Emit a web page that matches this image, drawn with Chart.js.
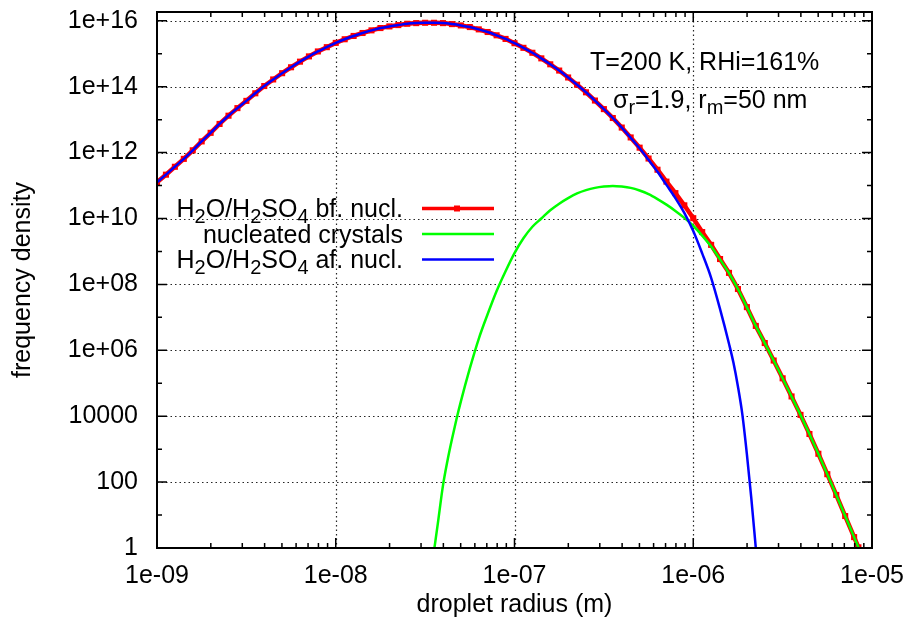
<!DOCTYPE html>
<html>
<head>
<meta charset="utf-8">
<script src="https://cdn.jsdelivr.net/npm/chart.js@4.4.0/dist/chart.umd.min.js"></script>
<style>
html,body{margin:0;padding:0;background:#fff;}
#wrap{width:910px;height:625px;position:relative;}
</style>
</head>
<body>
<div id="wrap"><canvas id="c" width="910" height="625"></canvas></div>
<script>
// ---------- data (log10 of radius in m, log10 of frequency density) ----------
const xTickExps = [-9, -8, -7, -6, -5];
const xTickLabels = ['1e-09', '1e-08', '1e-07', '1e-06', '1e-05'];
const yTickExps = [0, 2, 4, 6, 8, 10, 12, 14, 16];
const yTickLabels = ['1', '100', '10000', '1e+06', '1e+08', '1e+10', '1e+12', '1e+14', '1e+16'];

const seriesNames = ['H2O/H2SO4 bf. nucl.', 'nucleated crystals', 'H2O/H2SO4 af. nucl.'];

const bfLogR = [-9.00,-8.95,-8.90,-8.85,-8.80,-8.75,-8.70,-8.65,-8.60,-8.55,-8.50,-8.45,-8.40,-8.35,-8.30,-8.25,-8.20,-8.15,-8.10,-8.05,
  -8.00,-7.95,-7.90,-7.85,-7.80,-7.75,-7.70,-7.65,-7.60,-7.55,-7.50,-7.45,-7.40,-7.35,-7.30,-7.25,-7.20,-7.15,-7.10,-7.05,
  -7.00,-6.95,-6.90,-6.85,-6.80,-6.75,-6.70,-6.65,-6.60,-6.55,-6.50,-6.45,-6.40,-6.35,-6.30,-6.25,-6.20,-6.15,-6.10,-6.05,
  -6.00,-5.95,-5.90,-5.85,-5.80,-5.75,-5.70,-5.65,-5.60,-5.55,-5.50,-5.45,-5.40,-5.35,-5.30,-5.25,-5.20,-5.15,-5.10,-5.076];
const bfLogN = [11.10,11.33,11.57,11.81,12.07,12.34,12.60,12.87,13.12,13.35,13.57,13.80,14.02,14.22,14.41,14.59,14.76,14.92,15.07,15.20,
  15.33,15.44,15.54,15.63,15.71,15.78,15.83,15.87,15.91,15.93,15.94,15.94,15.93,15.90,15.86,15.81,15.74,15.66,15.56,15.45,
  15.32,15.18,15.03,14.86,14.68,14.49,14.28,14.06,13.83,13.58,13.32,13.05,12.76,12.46,12.15,11.82,11.48,11.12,10.77,10.40,
  10.01,9.59,9.20,8.77,8.35,7.86,7.31,6.74,6.22,5.69,5.15,4.60,4.04,3.46,2.86,2.24,1.61,0.97,0.33,0.02];

const afLogR = [-9.00,-8.95,-8.90,-8.85,-8.80,-8.75,-8.70,-8.65,-8.60,-8.55,-8.50,-8.45,-8.40,-8.35,-8.30,-8.25,-8.20,-8.15,-8.10,-8.05,
  -8.00,-7.95,-7.90,-7.85,-7.80,-7.75,-7.70,-7.65,-7.60,-7.55,-7.50,-7.45,-7.40,-7.35,-7.30,-7.25,-7.20,-7.15,-7.10,-7.05,
  -7.00,-6.95,-6.90,-6.85,-6.80,-6.75,-6.70,-6.65,-6.60,-6.55,-6.50,-6.45,-6.40,-6.35,-6.30,-6.25,-6.20,-6.15,-6.10,-6.05,
  -6.00,-5.95,-5.90,-5.85,-5.80,-5.775,-5.75,-5.725,-5.70,-5.675,-5.65];
const afLogN = [11.10,11.33,11.57,11.81,12.07,12.34,12.60,12.87,13.12,13.35,13.57,13.80,14.02,14.22,14.41,14.59,14.76,14.92,15.07,15.20,
  15.33,15.44,15.54,15.63,15.71,15.78,15.83,15.87,15.91,15.93,15.94,15.94,15.93,15.90,15.86,15.81,15.74,15.66,15.56,15.45,
  15.32,15.18,15.03,14.86,14.68,14.49,14.28,14.06,13.83,13.58,13.32,13.05,12.76,12.45,12.13,11.78,11.42,11.02,10.62,10.17,
  9.62,8.94,8.20,7.25,6.20,5.62,4.90,4.04,2.85,1.50,0.00];

const crLogR = [-7.448,-7.43,-7.40,-7.375,-7.35,-7.325,-7.30,-7.25,-7.20,-7.15,-7.10,-7.05,-7.00,-6.95,-6.90,-6.85,-6.80,-6.75,-6.70,-6.65,
  -6.60,-6.55,-6.50,-6.45,-6.40,-6.35,-6.30,-6.25,-6.20,-6.15,-6.10,-6.05,-6.00,-5.95,-5.90,-5.85,-5.80,-5.75,-5.70,-5.65,
  -5.60,-5.55,-5.50,-5.45,-5.40,-5.35,-5.30,-5.25,-5.20,-5.15,-5.10,-5.076];
const crLogN = [0.00,0.70,1.90,2.65,3.30,3.90,4.45,5.45,6.35,7.10,7.80,8.40,8.95,9.40,9.75,10.00,10.25,10.45,10.62,10.76,
  10.86,10.93,10.97,10.99,10.97,10.93,10.85,10.74,10.59,10.42,10.23,10.02,9.78,9.48,9.15,8.76,8.34,7.86,7.31,6.74,
  6.22,5.69,5.15,4.60,4.04,3.46,2.86,2.24,1.61,0.97,0.33,0.02];

const toPoints = (lr, ln) => lr.map((r, i) => ({ x: Math.pow(10, r), y: Math.pow(10, ln[i]) }));

// ---------- style ----------
const FONT = '"Liberation Sans", Arial, Helvetica, sans-serif';
const FS = 25;
const RED = '#ff0000', GREEN = '#00ff00', BLUE = '#0000ff';

function richParts(name) {
  const parts = [];
  const re = /(H)(2)|(SO)(4)/g;
  let last = 0, m;
  while ((m = re.exec(name)) !== null) {
    const base = m[1] || m[3], sub = m[2] || m[4];
    parts.push([name.slice(last, m.index) + base, false]);
    parts.push([sub, true]);
    last = re.lastIndex;
  }
  parts.push([name.slice(last), false]);
  return parts.filter(p => p[0].length);
}

function drawRich(ctx, parts, x, baseline, align) {
  const subFS = FS * 0.8;
  let w = 0;
  for (const [t, sub] of parts) {
    ctx.font = (sub ? subFS : FS) + 'px ' + FONT;
    w += ctx.measureText(t).width;
  }
  let cx = align === 'right' ? x - w : x;
  ctx.textAlign = 'left';
  ctx.textBaseline = 'alphabetic';
  for (const [t, sub] of parts) {
    ctx.font = (sub ? subFS : FS) + 'px ' + FONT;
    ctx.fillText(t, cx, baseline + (sub ? 6 : 0));
    cx += ctx.measureText(t).width;
  }
}

const decor = {
  id: 'gnuplotDecor',
  beforeDatasetsDraw(chart) {
    const { ctx, chartArea: a, scales: { x, y } } = chart;
    ctx.save();
    ctx.strokeStyle = 'rgba(0,0,0,0.85)';
    ctx.lineWidth = 1.2;
    ctx.setLineDash([1.5, 3]);
    for (const e of xTickExps) {
      const px = Math.round(x.getPixelForValue(Math.pow(10, e))) + 0.5;
      if (px <= a.left + 2 || px >= a.right - 2) continue;
      ctx.beginPath(); ctx.moveTo(px, a.top); ctx.lineTo(px, a.bottom); ctx.stroke();
    }
    for (const e of yTickExps) {
      const py = Math.round(y.getPixelForValue(Math.pow(10, e))) + 0.5;
      if (py <= a.top + 2 || py >= a.bottom - 2) continue;
      ctx.beginPath(); ctx.moveTo(a.left, py); ctx.lineTo(a.right, py); ctx.stroke();
    }
    ctx.restore();
  },
  afterDatasetsDraw(chart) {
    const { ctx, chartArea: a, scales: { x, y } } = chart;
    ctx.save();
    ctx.strokeStyle = '#000';
    ctx.lineWidth = 1.5;
    ctx.setLineDash([]);
    for (let e = -9; e <= -5; e++) {
      for (let k = 1; k <= 9; k++) {
        if (e === -5 && k > 1) break;
        const px = x.getPixelForValue(k * Math.pow(10, e));
        const len = k === 1 ? 10 : 5;
        ctx.beginPath();
        ctx.moveTo(px, a.bottom); ctx.lineTo(px, a.bottom - len);
        ctx.moveTo(px, a.top); ctx.lineTo(px, a.top + len);
        ctx.stroke();
      }
    }
    for (let e = 0; e <= 16; e++) {
      const py = y.getPixelForValue(Math.pow(10, e));
      const len = e % 2 === 0 ? 10 : 5;
      ctx.beginPath();
      ctx.moveTo(a.left, py); ctx.lineTo(a.left + len, py);
      ctx.moveTo(a.right, py); ctx.lineTo(a.right - len, py);
      ctx.stroke();
    }
    ctx.lineWidth = 2;
    ctx.strokeRect(a.left, a.top, a.right - a.left, a.bottom - a.top);

    // legend
    ctx.fillStyle = '#000';
    const rows = [208.5, 234, 259.5];
    const ds = chart.data.datasets;
    [0, 1, 2].forEach((di, i) => {
      const d = ds.find(s => s.seriesIndex === di);
      ctx.fillStyle = '#000';
      drawRich(ctx, richParts(seriesNames[di]), 403, rows[i] + 8.5, 'right');
      ctx.strokeStyle = d.borderColor;
      ctx.lineWidth = Math.min(d.borderWidth, 3.5);
      ctx.beginPath(); ctx.moveTo(422, rows[i]); ctx.lineTo(494, rows[i]); ctx.stroke();
      if (d.pointRadius > 0) {
        ctx.fillStyle = d.borderColor;
        ctx.fillRect(457 - 3, rows[i] - 3, 6, 6);
      }
    });

    // annotations
    ctx.fillStyle = '#000';
    drawRich(ctx, [['T=200 K, RHi=161%', false]], 590, 70, 'left');
    drawRich(ctx, [['\u03c3', false], ['r', true], ['=1.9, r', false], ['m', true], ['=50 nm', false]], 613, 108, 'left');
    ctx.restore();
  }
};

Chart.defaults.font.family = FONT;
Chart.defaults.font.size = FS;
Chart.defaults.color = '#000';

new Chart(document.getElementById('c'), {
  type: 'line',
  data: {
    datasets: [
      { label: seriesNames[2], seriesIndex: 2, data: toPoints(afLogR, afLogN), borderColor: BLUE, backgroundColor: BLUE,
        borderWidth: 2.5, pointRadius: 0, cubicInterpolationMode: 'monotone', order: 0 },
      { label: seriesNames[1], seriesIndex: 1, data: toPoints(crLogR, crLogN), borderColor: GREEN, backgroundColor: GREEN,
        borderWidth: 2.5, pointRadius: 0, cubicInterpolationMode: 'monotone', order: 1 },
      { label: seriesNames[0], seriesIndex: 0, data: toPoints(bfLogR, bfLogN), borderColor: RED, backgroundColor: RED,
        borderWidth: 4.5, pointRadius: 4.3, pointStyle: 'rect', pointBorderWidth: 0, pointBackgroundColor: RED,
        tension: 0, order: 2 }
    ]
  },
  options: {
    responsive: false,
    animation: false,
    devicePixelRatio: 1,
    layout: { padding: { left: 0, right: 38, top: 12, bottom: 0 } },
    plugins: { legend: { display: false }, tooltip: { enabled: false } },
    scales: {
      x: {
        type: 'logarithmic', position: 'bottom', min: 1e-9, max: 1e-5,
        grid: { display: false, drawTicks: false }, border: { display: false },
        ticks: {
          padding: 13, autoSkip: false, maxRotation: 0, minRotation: 0,
          font: { family: FONT, size: FS }, color: '#000',
          callback: (v) => { const i = xTickExps.indexOf(Math.round(Math.log10(v))); return i >= 0 ? xTickLabels[i] : ''; }
        },
        afterBuildTicks: (s) => { s.ticks = xTickExps.map(e => ({ value: Math.pow(10, e) })); },
        afterFit: (s) => { s.height = 77; s.paddingLeft = 0; s.paddingRight = 0; },
        title: { display: true, text: 'droplet radius (m)', font: { family: FONT, size: FS }, color: '#000', padding: { top: 0, bottom: 5 } }
      },
      y: {
        type: 'logarithmic', position: 'left', min: 1, max: 1.85e16,
        grid: { display: false, drawTicks: false }, border: { display: false },
        ticks: {
          padding: 19, autoSkip: false,
          font: { family: FONT, size: FS }, color: '#000',
          callback: (v) => { const i = yTickExps.indexOf(Math.round(Math.log10(v))); return i >= 0 ? yTickLabels[i] : ''; }
        },
        afterBuildTicks: (s) => { s.ticks = yTickExps.map(e => ({ value: Math.pow(10, e) })); },
        afterFit: (s) => { s.width = 157; s.paddingTop = 0; s.paddingBottom = 0; },
        title: { display: true, text: 'frequency density', font: { family: FONT, size: FS }, color: '#000', padding: { top: 8, bottom: 0 } }
      }
    }
  },
  plugins: [decor]
});
</script>
</body>
</html>
